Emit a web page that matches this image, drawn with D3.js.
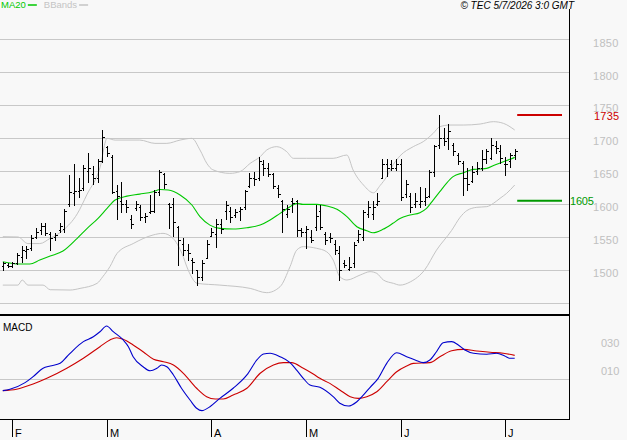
<!DOCTYPE html>
<html><head><meta charset="utf-8">
<script src="https://cdn.jsdelivr.net/npm/d3@7/dist/d3.min.js"></script>
<style>html,body{margin:0;padding:0;background:#f8f8f8;}svg{display:block;font-family:"Liberation Sans",Arial,sans-serif;}</style>
</head><body><svg id="c" width="627" height="440"></svg>
<script>
// ---- trading calendar (Euronext) ----
const firstDay = "2026-01-29", lastDay = "2026-07-03";
const holidays = ["2026-04-03","2026-04-06","2026-05-01"];
const monthLabels = ["F","M","A","M","J","J"];
// ---- OHLC (one entry per trading day) ----
const opens = [1506,1508,1506,1511,1520,1528,1533,1550,1560,1567,1555,1550,1560,1562,1600,1617,1620,1625,1650,1645,
1640,1666,1686,1672,1620,1605,1600,1578,1594,1595,1580,1588,1590,1618,1645,1600,1600,1565,1540,1530,
1515,1500,1490,1518,1552,1555,1570,1590,1590,1584,1590,1595,1628,1640,1640,1660,1655,1645,1625,1605,
1585,1604,1604,1560,1558,1550,1565,1590,1555,1550,1540,1525,1510,1502,1510,1545,1550,1585,1585,1600,
1640,1660,1660,1655,1660,1615,1612,1600,1600,1605,1612,1648,1690,1700,1700,1690,1675,1662,1640,1635,
1650,1655,1668,1670,1688,1680,1660,1665,1675];
const highs = [1512,1511,1512,1526,1536,1536,1553,1563,1571,1571,1558,1556,1571,1592,1644,1660,1639,1659,1677,1657,
1669,1712,1688,1674,1629,1634,1606,1583,1604,1599,1586,1614,1621,1652,1647,1601,1609,1566,1548,1540,
1518,1500,1515,1545,1563,1578,1578,1604,1596,1593,1596,1622,1647,1649,1671,1667,1662,1647,1629,1606,
1599,1609,1606,1563,1566,1561,1599,1599,1558,1556,1545,1536,1515,1520,1543,1561,1591,1604,1604,1616,
1669,1669,1667,1669,1669,1636,1616,1616,1626,1624,1652,1690,1735,1716,1722,1692,1677,1666,1654,1657,
1664,1682,1684,1700,1695,1690,1671,1678,1684];
const lows = [1500,1505,1505,1509,1512,1518,1531,1548,1555,1553,1531,1546,1558,1557,1597,1598,1611,1621,1634,1631,
1634,1664,1673,1616,1577,1588,1588,1564,1591,1576,1573,1586,1588,1614,1624,1563,1551,1508,1523,1515,
1495,1477,1485,1518,1551,1535,1556,1578,1573,1581,1576,1593,1626,1629,1636,1644,1642,1624,1611,1558,
1581,1588,1552,1551,1533,1543,1561,1562,1540,1543,1524,1485,1504,1500,1505,1543,1546,1581,1578,1598,
1640,1642,1652,1652,1606,1611,1588,1596,1596,1598,1611,1642,1685,1690,1684,1674,1660,1614,1622,1633,
1645,1652,1662,1668,1677,1662,1644,1656,1668];
const closes = [1510,1506,1510,1522,1530,1532,1549,1558,1566,1556,1549,1553,1566,1590,1618,1619,1622,1654,1655,1640,
1665,1702,1678,1618,1612,1600,1595,1570,1600,1580,1582,1590,1618,1648,1630,1595,1572,1545,1530,1525,
1512,1490,1510,1540,1558,1570,1562,1598,1580,1588,1592,1619,1640,1638,1665,1655,1645,1628,1615,1592,
1592,1602,1560,1558,1562,1545,1582,1565,1545,1548,1530,1500,1508,1505,1538,1555,1588,1595,1596,1605,
1660,1655,1655,1660,1610,1630,1595,1605,1605,1610,1648,1688,1700,1695,1710,1680,1665,1640,1630,1648,
1655,1668,1680,1690,1685,1670,1660,1675,1680];
// ---- MA20 and Bollinger bands (bar index, value) ----
const maIdx = [0,3.6,5.7,7.8,10,12.7,15.7,17.8,20.1,22,23.7,26.2,28.9,31.7,33.2,34.9,37.4,39.9,41.6,43.7,45.8,48.6,51.5,54.3,56.4,58.5,60.6,62.1,63.3,66.3,68.4,70.5,72.6,74.7,76.8,78.1,80.2,82.3,83.8,85.9,88,89.4,90.8,92.2,93.6,95,97.2,99.3,100.7,102.1,103.8,105.6,107,108];
const maVal = [1512.5,1509,1509,1515,1521,1528.7,1548,1563,1578.3,1593.4,1606,1612,1615,1618.7,1622,1621.2,1613.7,1598.5,1580.8,1568,1563,1562,1564,1568,1575.7,1585.8,1596,1601,1599.5,1599.5,1597,1592,1580.8,1565.6,1559.5,1556.5,1561.6,1570.7,1578,1583.3,1586.9,1593.4,1606,1618.7,1631.4,1641.5,1647.5,1652.6,1653,1654,1659.2,1664.2,1667.8,1670.8];
const upIdx = [0,3.2,5.3,7.8,10,12.7,15.7,17.8,20.5,22,23.7,28.9,32.1,34.6,37.4,39.9,41.6,43.1,44.3,47.9,50,52.2,54.3,55.7,57.8,59.9,61.3,64.1,69.7,72.6,73.9,76.1,78.2,79.6,81,82.4,83.8,86.6,88.7,90.8,92.2,94.3,97.2,100.7,103.5,105.6,108];
const upVal = [1550.5,1550,1540,1540,1548,1560,1585,1615,1655,1699.6,1697,1697,1692,1692,1697,1699.6,1682,1661,1652,1646.5,1649,1661.7,1671.8,1682,1687,1679.4,1669.3,1669.3,1669.3,1674.3,1651.6,1628.8,1617,1628,1641.5,1660,1673,1687,1694.6,1707.2,1717.3,1719.8,1719.8,1721.3,1724.9,1722.4,1712.3];
const loIdx = [0,3.2,4.1,5.3,8.5,10,14.2,16.3,19.9,21.1,22.6,24.1,27.5,31.7,33.8,35.9,37.8,39.1,41,45.8,52.2,55.7,58.5,60.6,62,63.4,66.2,68.3,69.7,71.1,72.6,75.4,77.5,78.9,80.3,82.4,83.8,86,89,91.5,94.7,96.5,97.9,100,102.1,103.5,104.9,106.3,108];
const loVal = [1477,1477,1484.7,1477,1477,1470,1469.5,1472,1479.7,1489.8,1505,1525,1540,1553,1555.5,1548,1525,1500,1479.7,1477,1472,1465.5,1474.6,1505,1530,1535.3,1532.8,1527.7,1515,1489.8,1484.7,1492.3,1497.4,1494.8,1484.7,1479.7,1477,1482,1500,1530,1560,1580,1590,1595,1596,1601,1608.6,1616.2,1628.8];
// ---- MACD (bar index, value) ----
const macdIdx = [0,1.5,4.7,6.4,8.5,10,12.1,13.5,14.9,17,19.1,20.5,21.9,23.3,25.4,26.5,27.5,29.6,31.1,32.5,33.5,34.6,36,37.7,39.5,40.9,42,43.7,45.8,48.6,51.5,53.6,55,56.4,58.5,60.6,62,63.4,64.8,66.9,69.7,71.1,72.9,74.7,76.1,77.5,79.2,81,83.1,85.2,87,88.7,90.1,91.5,92.9,94.7,96.1,97.5,99.3,102.1,104.2,105.9,107,108];
const macdVal = [-8.1,-7.1,-2.4,1.9,7.9,9.5,11.4,16.1,20.9,26.9,30.4,34,38.1,34,28.1,23.3,16.1,9,6.1,7.9,10.2,9,3.1,-6.4,-14.8,-20.7,-22.4,-19.6,-13.6,-6.4,3.1,13.8,18.1,18.6,16.1,11.9,6.6,0.7,-4.1,-5.7,-12.4,-17.1,-19.1,-16,-11.2,-5.7,0.7,11.4,19,16.1,13.8,11.9,13.8,19.7,26.1,26.9,24.5,20.9,18.6,17.9,18.6,16.6,15,15];
const sigIdx = [0,2.9,6.4,9.3,13.5,17,20.5,22.6,24,25.4,27.5,29.6,31.8,33.9,36,38.1,40.9,43,44.8,46.5,48.6,51.5,54.3,57.1,59.2,60.9,63.4,65.5,66.9,69,71.1,73.3,75,76.8,78.9,81,83.1,85.2,86.6,90.1,92.2,94.7,97.2,100,102.8,105.6,108];
const sigVal = [-8.1,-7.1,-3.4,0.7,7.9,15,23.3,28.1,29.7,28.6,24.5,19.7,14.3,12.6,10.2,4.3,-6.4,-12.4,-14.1,-14.1,-11.2,-6.4,4.3,10.2,11.9,11.9,7.9,3.8,0.7,-2.9,-7.6,-12.4,-13.6,-12.4,-8.9,-1.7,5.4,9.5,11.4,11.9,16.1,20.4,21.4,20.2,19.3,18.6,17.1];
// ---- axis ticks ----
const priceTicks = [1500,1550,1600,1650,1700,1750,1800,1850];
const priceGrid = [1450,1500,1550,1600,1650,1700,1750,1800,1850];
const macdTicks = [30,10];
const macdTickLabels = ["030","010"];
const resistance = 1735, support = 1605;
const legendItems = [{name:"MA20", color:"#00c800"},{name:"BBands", color:"#c4c4c4"}];
const stamp = "© TEC 5/7/2026 3:0 GMT";

// build dates
const dates = [];
{
  const parse = d3.utcParse("%Y-%m-%d"), fmt = d3.utcFormat("%Y-%m-%d");
  for (let d = parse(firstDay); d <= parse(lastDay); d = d3.utcDay.offset(d, 1)) {
    const wd = d.getUTCDay(), s = fmt(d);
    if (wd === 0 || wd === 6 || holidays.includes(s)) continue;
    dates.push(d);
  }
}
const bars = dates.map((d,i)=>({d, i, o:opens[i], h:highs[i], l:lows[i], c:closes[i]}));

const svg = d3.select("#c");
const W = 627, H = 440;
const panelRight = 569.5;
const x = d3.scaleLinear().domain([0, dates.length-1]).range([2.8, 514.7]);
const y = d3.scaleLinear().domain([1450, 1850]).range([302.9, 39.2]);
const ym = d3.scaleLinear().domain([0, 30]).range([379.3, 337.3]);

svg.append("rect").attr("width",W).attr("height",H).attr("fill","#f8f8f8");

// grid
svg.append("g").selectAll("line").data(priceGrid).join("line")
  .attr("x1",0).attr("x2",panelRight).attr("y1",d=>Math.round(y(d))+0.5).attr("y2",d=>Math.round(y(d))+0.5)
  .attr("stroke","#c8c8c8").attr("stroke-width",1).attr("shape-rendering","crispEdges");
svg.append("line").attr("x1",0).attr("x2",panelRight).attr("y1",Math.round(ym(0))+0.5).attr("y2",Math.round(ym(0))+0.5)
  .attr("stroke","#c8c8c8").attr("shape-rendering","crispEdges");

// price labels
svg.append("g").selectAll("text").data(priceTicks).join("text")
  .attr("x",593).attr("y",d=>y(d)+3.5).attr("dy","0.35em").attr("fill","#c0c0c0")
  .attr("font-size","11px").attr("letter-spacing","0.3px").text(d=>d);
svg.append("g").selectAll("text").data(macdTicks).join("text")
  .attr("x",601).attr("y",d=>ym(d)+5.5).attr("dy","0.35em").attr("fill","#c0c0c0")
  .attr("font-size","11px").text((d,k)=>macdTickLabels[k]);

// clip for price panel
svg.append("clipPath").attr("id","pc").append("rect").attr("x",0).attr("y",9).attr("width",panelRight).attr("height",305);

const gp = svg.append("g").attr("clip-path","url(#pc)");
const line = (idx, val, ys) => d3.line().x((d,k)=>x(idx[k])).y(d=>ys(d)).curve(d3.curveMonotoneX)(val);
gp.append("path").attr("d",line(upIdx,upVal,y)).attr("fill","none").attr("stroke","#c4c4c4").attr("stroke-width",1);
gp.append("path").attr("d",line(loIdx,loVal,y)).attr("fill","none").attr("stroke","#c4c4c4").attr("stroke-width",1);
gp.append("path").attr("d",line(maIdx,maVal,y)).attr("fill","none").attr("stroke","#00c800").attr("stroke-width",1.1);

// OHLC bars
const gb = gp.append("g").attr("stroke","#000").attr("stroke-width",1).attr("shape-rendering","crispEdges");
bars.forEach(b=>{
  const px = Math.round(x(b.i))+0.5;
  gb.append("line").attr("x1",px).attr("x2",px).attr("y1",Math.round(y(b.h))).attr("y2",Math.round(y(b.l))+1);
  gb.append("line").attr("x1",px-2).attr("x2",px).attr("y1",Math.round(y(b.o))+0.5).attr("y2",Math.round(y(b.o))+0.5);
  gb.append("line").attr("x1",px).attr("x2",px+2).attr("y1",Math.round(y(b.c))+0.5).attr("y2",Math.round(y(b.c))+0.5);
});

// resistance / support
const xr0 = x(dates.length-1)+2.5, xr1 = 562;
svg.append("line").attr("x1",xr0).attr("x2",xr1).attr("y1",y(resistance)).attr("y2",y(resistance)).attr("stroke","#cc0000").attr("stroke-width",2);
svg.append("line").attr("x1",xr0).attr("x2",xr1).attr("y1",y(support)).attr("y2",y(support)).attr("stroke","#009900").attr("stroke-width",2);
svg.append("text").attr("x",594).attr("y",y(resistance)+1.5).attr("dy","0.35em").attr("fill","#cc0000").attr("font-size","11px").attr("letter-spacing","0.2px").text(resistance);
svg.append("text").attr("x",570).attr("y",y(support)+0.5).attr("dy","0.35em").attr("fill","#009900").attr("font-size","11px").attr("letter-spacing","-0.2px").text(support);

// MACD
svg.append("text").attr("x",3).attr("y",327).attr("dy","0.35em").attr("font-size","10px").attr("fill","#000").text("MACD");
svg.append("path").attr("d",line(sigIdx,sigVal,ym)).attr("fill","none").attr("stroke","#cc0000").attr("stroke-width",1.1);
svg.append("path").attr("d",line(macdIdx,macdVal,ym)).attr("fill","none").attr("stroke","#0000cc").attr("stroke-width",1.1);

// frame
svg.append("line").attr("x1",panelRight).attr("x2",panelRight).attr("y1",9).attr("y2",420).attr("stroke","#000").attr("shape-rendering","crispEdges");
svg.append("line").attr("x1",0).attr("x2",panelRight+0.5).attr("y1",315).attr("y2",315).attr("stroke","#000").attr("stroke-width",2).attr("shape-rendering","crispEdges");
svg.append("line").attr("x1",0).attr("x2",panelRight+0.5).attr("y1",419.5).attr("y2",419.5).attr("stroke","#000").attr("shape-rendering","crispEdges");

// month ticks
const monthStarts = bars.filter((b,k)=>k>0 && b.d.getUTCMonth()!==bars[k-1].d.getUTCMonth());
const gm = svg.append("g");
monthStarts.forEach((b,k)=>{
  const px = Math.round(x(b.i))+0.5;
  gm.append("line").attr("x1",px).attr("x2",px).attr("y1",419).attr("y2",437).attr("stroke","#000").attr("shape-rendering","crispEdges");
  gm.append("text").attr("x",px+2.5).attr("y",433.5).attr("dy","0.35em").attr("font-size","11px").attr("fill","#000").text(monthLabels[k]);
});

// legend
let lx = 1;
legendItems.forEach(it=>{
  const t = svg.append("text").attr("x",lx).attr("y",5).attr("dy","0.35em").attr("font-size","9.5px").attr("fill",it.color).text(it.name);
  const w = t.node().getComputedTextLength();
  svg.append("line").attr("x1",lx+w+2).attr("x2",lx+w+11).attr("y1",5).attr("y2",5).attr("stroke",it.color).attr("stroke-width",1.5);
  lx += w + 18;
});
svg.append("text").attr("x",574).attr("y",5).attr("dy","0.35em").attr("text-anchor","end").attr("font-size","10px").attr("font-style","italic").attr("fill","#000").text(stamp);
</script>
</body></html>
